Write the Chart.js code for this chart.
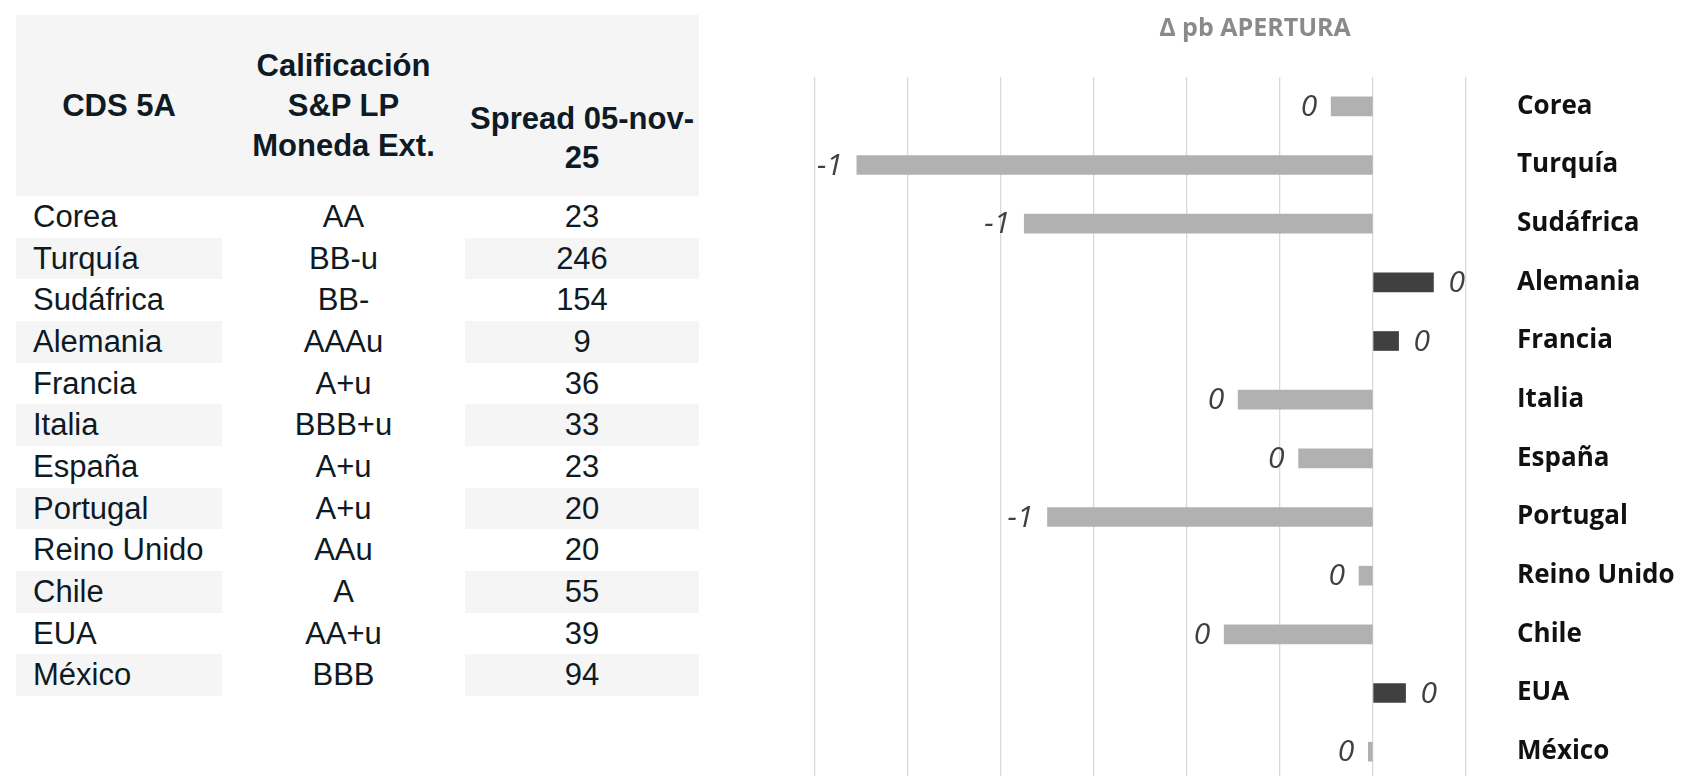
<!DOCTYPE html>
<html>
<head>
<meta charset="utf-8">
<script src="https://cdn.jsdelivr.net/npm/chart.js@4.4.0/dist/chart.umd.min.js"></script>
<style>
  html, body { margin: 0; padding: 0; background: #fff; overflow: hidden; width: 1683px; height: 776px; }
  #table { position: absolute; left: 16px; top: 15px; width: 683px; font-family: "Liberation Sans", Arial, sans-serif; color: #0e1a24; }
  .head { position: relative; height: 181px; background: #f5f5f5; }
  .head div { position: absolute; top: 0; height: 181px; display: flex; justify-content: center; text-align: center; font-weight: bold; font-size: 31px; line-height: 40px; overflow: hidden; }
  .row { position: relative; height: 41.67px; }
  .row div { position: absolute; top: 0; height: 41.67px; line-height: 41.67px; font-size: 31px; white-space: nowrap; }
  .c1 { left: 0; width: 206px; }
  .c2 { left: 206px; width: 243px; text-align: center; }
  .c3 { left: 449px; width: 234px; text-align: center; }
  .row .c1 { padding-left: 17px; box-sizing: border-box; }
  .shade .c1, .shade .c3 { background: #f5f5f5; }
  #chartBox { position: absolute; left: 790px; top: 0; width: 905px; height: 781px; }
</style>
</head>
<body>
<div id="table"></div>
<div id="chartBox"><canvas id="deltaChart"></canvas></div>

<script>
// table headers
const headers = ['CDS 5A', 'Calificación S&P LP Moneda Ext.', 'Spread 05-nov-25'];

// one entry per country, top to bottom
const countries = ['Corea', 'Turquía', 'Sudáfrica', 'Alemania', 'Francia', 'Italia',
  'España', 'Portugal', 'Reino Unido', 'Chile', 'EUA', 'México'];
const ratings = ['AA', 'BB-u', 'BB-', 'AAAu', 'A+u', 'BBB+u', 'A+u', 'A+u', 'AAu', 'A', 'AA+u', 'BBB'];
const spreads = [23, 246, 154, 9, 36, 33, 23, 20, 20, 55, 39, 94];

// change in basis points at the open
const deltaPb = [-0.09, -1.11, -0.75, 0.13, 0.055, -0.29, -0.16, -0.70, -0.03, -0.32, 0.07, -0.01];

const chartTitle = 'Δ pb APERTURA';

// build the table
const table = document.getElementById('table');
let html = '<div class="head">' +
  '<div class="c1" style="align-items:center">' + headers[0] + '</div>' +
  '<div class="c2" style="align-items:center;padding:0 20px;box-sizing:border-box">' + headers[1] + '</div>' +
  '<div class="c3" style="align-items:flex-start;padding-top:84px;line-height:39px;box-sizing:border-box">' + headers[2] + '</div>' +
  '</div>';
countries.forEach((c, i) => {
  html += '<div class="row' + (i % 2 === 1 ? ' shade' : '') + '">' +
    '<div class="c1">' + c + '</div>' +
    '<div class="c2">' + ratings[i] + '</div>' +
    '<div class="c3">' + spreads[i] + '</div>' +
    '</div>';
});
table.innerHTML = html;

// value labels at the end of each bar, rounded like the original
const barLabels = {
  id: 'barLabels',
  afterDatasetsDraw(chart) {
    const ctx = chart.ctx;
    const meta = chart.getDatasetMeta(0);
    ctx.save();
    ctx.font = 'italic 30px "Open Sans"';
    ctx.fillStyle = '#404040';
    ctx.textBaseline = 'middle';
    meta.data.forEach((bar, i) => {
      const v = deltaPb[i];
      const txt = String(Math.round(v) + 0);
      if (v < 0) {
        ctx.textAlign = 'right';
        ctx.fillText(txt, bar.x - 14, bar.y + 1);
      } else {
        ctx.textAlign = 'left';
        ctx.fillText(txt, bar.x + 15, bar.y + 1);
      }
    });
    ctx.restore();
  }
};

const ctx = document.getElementById('deltaChart').getContext('2d');
new Chart(ctx, {
  type: 'bar',
  data: {
    labels: countries,
    datasets: [{
      data: deltaPb,
      backgroundColor: c => (c.raw >= 0 ? '#404040' : '#b1b1b1'),
      barThickness: 19
    }]
  },
  plugins: [barLabels],
  options: {
    indexAxis: 'y',
    responsive: true,
    maintainAspectRatio: false,
    animation: false,
    layout: { padding: { left: 25, right: 0, top: 0, bottom: 0 } },
    plugins: {
      legend: { display: false },
      tooltip: { enabled: false },
      title: {
        display: true,
        text: chartTitle,
        color: '#8a8a8a',
        font: { family: 'Open Sans', size: 25, weight: 'bold' },
        padding: { top: 14, bottom: 33 }
      }
    },
    scales: {
      x: {
        min: -1.2,
        max: 0.2,
        ticks: { stepSize: 0.2, display: false },
        grid: { color: '#d9d9d9', lineWidth: 1.3, drawTicks: false },
        border: { display: false },
        afterFit(scale) { scale.height = 0; }
      },
      y: {
        position: 'right',
        grid: { display: false, drawTicks: false },
        border: { display: false },
        ticks: {
          padding: 51,
          color: '#111111',
          font: { family: 'Open Sans', size: 26, weight: 'bold' }
        },
        afterFit(scale) {
          scale.width = 229;
          // the big label padding should not shrink the plot vertically
          scale.paddingTop = 0;
          scale.paddingBottom = 0;
        }
      }
    }
  }
});
</script>
</body>
</html>
